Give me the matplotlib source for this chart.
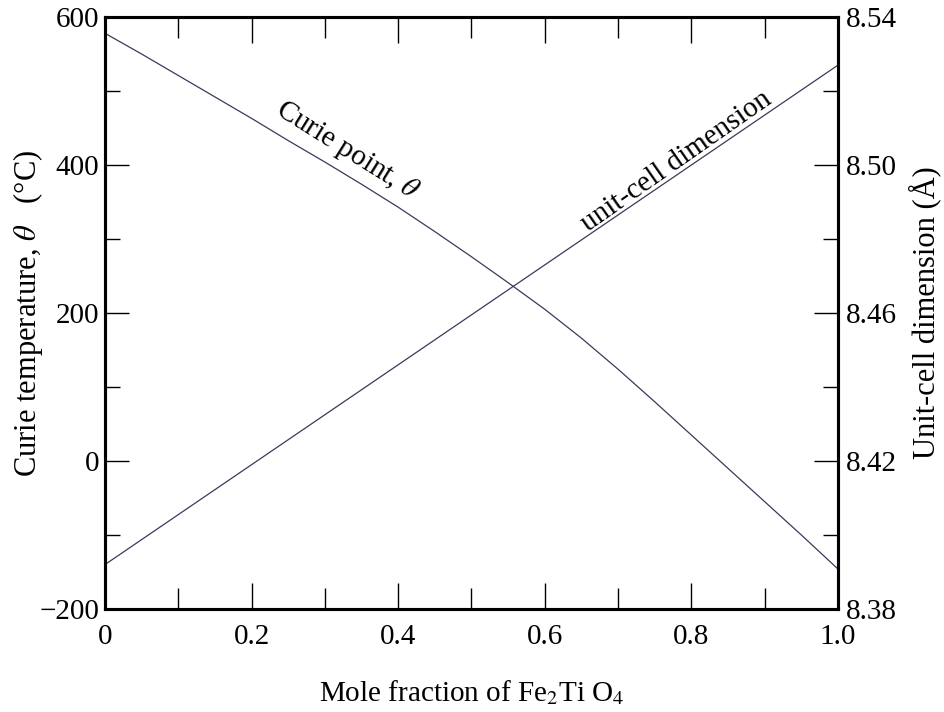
import numpy as np
import matplotlib
matplotlib.use('Agg')
import matplotlib.pyplot as plt
from matplotlib.ticker import MultipleLocator, FixedLocator, FixedFormatter

plt.rcParams['font.family'] = 'Liberation Serif'
plt.rcParams['mathtext.fontset'] = 'stix'

# Data
mole_frac = [0.0, 0.05, 0.1, 0.15, 0.2, 0.25, 0.3, 0.35, 0.4, 0.45, 0.5,
             0.55, 0.6, 0.65, 0.7, 0.75, 0.8, 0.85, 0.9, 0.95, 1.0]
curie_T = [578, 550, 521, 492, 463, 433, 404, 374, 343, 310, 276,
           241, 205, 166, 124, 80, 35, -10, -55, -100, -146]
cell_x = [0.0, 0.5, 1.0]
cell_a = [8.392, 8.4595, 8.527]

x_ticks = [0, 0.2, 0.4, 0.6, 0.8, 1.0]
x_labels = ['0', '0.2', '0.4', '0.6', '0.8', '1.0']
t_ticks = [-200, 0, 200, 400, 600]
t_labels = ['\u2212200', '0', '200', '400', '600']
a_ticks = [8.38, 8.42, 8.46, 8.50, 8.54]
a_labels = ['8.38', '8.42', '8.46', '8.50', '8.54']

fig = plt.figure(figsize=(9.44, 7.12), dpi=100)
ax = fig.add_axes([0.1112, 0.1447, 0.7765, 0.8314])
ax2 = ax.twinx()

line_col = '#3a3a5a'
ax.plot(mole_frac, curie_T, color=line_col, lw=0.9)
ax2.plot(cell_x, cell_a, color=line_col, lw=0.9)

ax.set_xlim(0, 1.0)
ax.set_ylim(-200, 600)
ax2.set_ylim(8.38, 8.54)

ax.xaxis.set_major_locator(FixedLocator(x_ticks))
ax.xaxis.set_major_formatter(FixedFormatter(x_labels))
ax.xaxis.set_minor_locator(MultipleLocator(0.1))
ax.yaxis.set_major_locator(FixedLocator(t_ticks))
ax.yaxis.set_major_formatter(FixedFormatter(t_labels))
ax.yaxis.set_minor_locator(MultipleLocator(100))
ax2.yaxis.set_major_locator(FixedLocator(a_ticks))
ax2.yaxis.set_major_formatter(FixedFormatter(a_labels))
ax2.yaxis.set_minor_locator(MultipleLocator(0.02))

fs_tick = 21
ax.tick_params(axis='x', which='both', direction='in', top=True, labelsize=fs_tick, pad=11)
ax.tick_params(axis='x', which='major', length=19, width=1)
ax.tick_params(axis='x', which='minor', length=15, width=1)
ax.tick_params(axis='y', which='both', direction='in', right=False, labelsize=fs_tick, pad=4)
ax.tick_params(axis='y', which='major', length=17, width=1)
ax.tick_params(axis='y', which='minor', length=11, width=1)
ax2.tick_params(axis='y', which='both', direction='in', labelsize=fs_tick, pad=6)
ax2.tick_params(axis='y', which='major', length=17, width=1)
ax2.tick_params(axis='y', which='minor', length=11, width=1)

for a in (ax, ax2):
    for s in a.spines.values():
        s.set_linewidth(2.2)

ax.set_xlabel('Mole fraction of Fe$_2$Ti O$_4$', fontsize=21, labelpad=20)
ax.set_ylabel('Curie temperature, $\\theta$   (\u00b0C)', fontsize=22)
ax.yaxis.set_label_coords(-0.082, 0.5)
ax2.set_ylabel('Unit-cell dimension (\u00c5)', fontsize=22, labelpad=8)

ax.text(0.33, 420, 'Curie point, $\\theta$', fontsize=21, rotation=-32,
        rotation_mode='anchor', ha='center', va='center')
ax.text(0.78, 405, 'unit-cell dimension', fontsize=21, rotation=35,
        rotation_mode='anchor', ha='center', va='center')

fig.savefig('out.png', dpi=100)
